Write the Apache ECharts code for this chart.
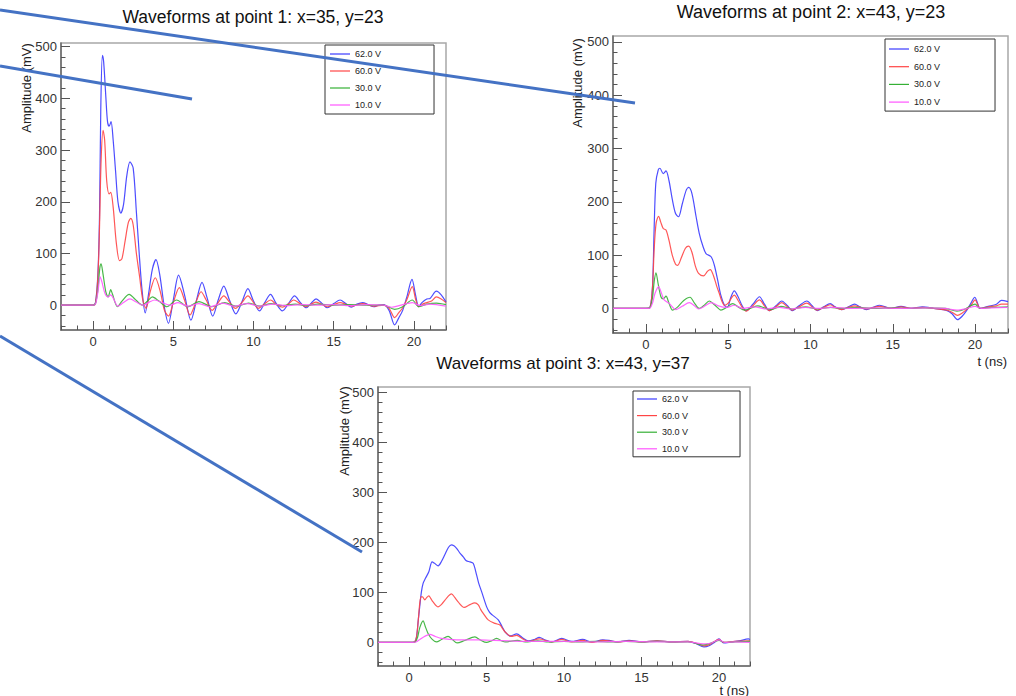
<!DOCTYPE html>
<html><head><meta charset="utf-8">
<script src="https://cdn.jsdelivr.net/npm/echarts@6/dist/echarts.min.js"></script>
<style>html,body{margin:0;padding:0;background:#fff}#c{width:1016px;height:696px}</style>
</head><body><div id="c"></div>
<script>
// ---------- data ----------
const SERIES_NAMES = ['62.0 V', '60.0 V', '30.0 V', '10.0 V'];
const PANEL_TITLES = ['Waveforms at point 1: x=35, y=23', 'Waveforms at point 2: x=43, y=23', 'Waveforms at point 3: x=43, y=37'];
const Y_TITLE = 'Amplitude (mV)';
const X_TITLE = 't (ns)';
const X_MAJOR = [0, 5, 10, 15, 20];
const Y_MAJOR = [0, 100, 200, 300, 400, 500];

// Point 1
const p1_62 = [[-2,0],[0,0],[0.15,5],[0.3,60],[0.4,170],[0.48,380],[0.58,483],[0.66,470],[0.8,400],[0.9,355],[1.0,346],[1.12,355],[1.25,320],[1.4,260],[1.55,200],[1.73,178],[1.9,195],[2.1,250],[2.3,277],[2.5,265],[2.7,180],[2.875,100],[3.05,30],[3.25,-15],[3.45,20],[3.7,70],[3.92,88],[4.15,60],[4.45,-5],[4.7,-35],[5.0,10],[5.33,58],[5.7,20],[6.1,-29],[6.45,10],[6.79,44],[7.1,15],[7.46,-21],[7.8,10],[8.15,37],[8.5,10],[8.9,-17],[9.3,8],[9.65,32],[10.0,8],[10.375,-11],[10.7,5],[11.06,21],[11.4,4],[11.8,-11],[12.2,4],[12.56,18],[12.9,6],[13.3,-5],[13.6,4],[13.9,12],[14.25,4],[14.6,-5],[15.0,3],[15.4,10],[15.75,3],[16.1,-4],[16.45,2],[16.8,5],[17.15,1],[17.5,-3],[17.8,0],[18.1,1],[18.45,-10],[18.8,-38],[19.05,-25],[19.3,-10],[19.55,15],[19.88,50],[20.1,20],[20.3,-3],[20.5,5],[20.8,12],[21.0,13],[21.4,27],[21.7,20],[22,6]];
const p1_60 = [[-2,0],[0,0],[0.15,4],[0.3,55],[0.4,150],[0.5,280],[0.62,338],[0.72,320],[0.85,240],[1.0,215],[1.1,218],[1.25,190],[1.45,120],[1.65,86],[1.8,90],[2.0,125],[2.2,160],[2.35,168],[2.5,155],[2.7,100],[2.9,55],[3.1,10],[3.3,-6],[3.55,25],[3.875,53],[4.2,25],[4.45,-10],[4.7,-21],[5.0,5],[5.375,34],[5.7,10],[6.04,-19],[6.4,5],[6.73,26],[7.05,10],[7.42,-10],[7.8,5],[8.15,18],[8.5,6],[8.875,-6],[9.3,6],[9.65,18],[10.0,5],[10.3,-6],[10.7,3],[11.06,10],[11.4,2],[11.8,-4],[12.2,3],[12.5,10],[12.9,3],[13.25,-3],[13.6,2],[13.9,6],[14.3,1],[14.6,-3],[15.0,1],[15.4,5],[15.8,1],[16.1,-2],[16.8,3],[17.5,-2],[18.1,0],[18.45,-6],[18.8,-24],[19.05,-15],[19.3,-5],[19.55,10],[19.9,36],[20.1,12],[20.3,-3],[20.6,3],[20.8,5],[21.1,8],[21.4,16],[21.7,12],[22,5]];
const p1_30 = [[-2,0],[0,0],[0.15,3],[0.3,30],[0.42,72],[0.5,80],[0.62,60],[0.8,25],[0.94,16],[1.1,30],[1.2,22],[1.52,-3],[1.8,8],[2.25,21],[2.6,12],[3.08,0],[3.4,8],[3.7,16],[4.1,8],[4.6,-3],[5.2,10],[5.9,-3],[6.6,7],[7.4,-3],[8.2,5],[8.9,-2],[9.7,4],[10.4,-2],[11.1,3],[11.8,-1],[12.6,2],[13.3,-1],[14.0,2],[15,0],[16,1],[17,0],[18.1,0],[18.8,-8],[19.3,-3],[19.9,10],[20.3,-3],[20.8,2],[21.4,4],[22,1]];
const p1_10 = [[-2,0],[0,0],[0.15,2],[0.3,25],[0.44,55],[0.55,45],[0.75,22],[0.94,16],[1.1,20],[1.25,14],[1.55,-2],[1.9,5],[2.3,12],[2.7,6],[3.1,0],[3.5,6],[3.85,10],[4.3,5],[4.8,0],[5.3,5],[5.9,-2],[6.6,3],[7.3,-3],[8.1,4],[8.8,-2],[9.6,3],[10.4,-2],[11.2,2],[12,-1],[13,1],[14,0],[15,1],[16,-1],[17,1],[18.1,0],[18.6,-4],[19.2,0],[19.9,5],[20.4,-1],[21,2],[22,-2]];

// Point 2
const p2_62 = [[-2,0],[0,0],[0.25,2],[0.4,40],[0.5,150],[0.6,235],[0.75,260],[0.85,263],[1.05,253],[1.22,258],[1.4,240],[1.6,205],[1.8,178],[1.98,172],[2.2,195],[2.45,222],[2.6,227],[2.8,215],[3.05,172],[3.24,141],[3.45,118],[3.65,103],[3.96,97],[4.15,82],[4.36,53],[4.55,25],[4.77,6],[4.95,2],[5.15,20],[5.37,33],[5.6,22],[5.85,5],[6.09,-4],[6.5,8],[6.9,22],[7.2,8],[7.5,-4],[7.9,5],[8.25,14],[8.6,5],[8.9,-4],[9.3,5],[9.78,14],[10.1,5],[10.4,-4],[10.8,3],[11.2,9],[11.5,3],[11.9,-2],[12.3,3],[12.68,8],[13.0,3],[13.4,-2],[13.8,2],[14.2,6],[14.9,0],[15.5,4],[16.1,0],[16.8,3],[17.5,0],[18.3,-4],[18.6,-10],[18.93,-21],[19.2,-15],[19.48,-4],[19.75,10],[19.98,21],[20.15,10],[20.3,0],[20.8,4],[21.3,8],[21.6,15],[22,13]];
const p2_60 = [[-2,0],[0,0],[0.25,2],[0.4,40],[0.5,110],[0.62,160],[0.77,173],[0.9,162],[1.05,150],[1.22,147],[1.4,128],[1.6,100],[1.8,83],[1.93,81],[2.15,95],[2.4,113],[2.6,117],[2.8,105],[3.0,80],[3.2,66],[3.5,61],[3.75,70],[3.91,73],[4.1,62],[4.3,42],[4.46,28],[4.6,15],[4.77,6],[5.0,10],[5.2,20],[5.37,25],[5.6,15],[5.85,2],[6.09,-5],[6.5,5],[6.9,16],[7.2,5],[7.5,-4],[7.9,3],[8.25,11],[8.6,3],[8.9,-3],[9.3,3],[9.78,10],[10.1,3],[10.4,-3],[10.8,2],[11.2,7],[11.5,2],[11.9,-2],[12.3,2],[12.7,5],[13.4,-1],[14.2,4],[14.9,0],[15.5,3],[16.1,0],[16.8,2],[17.5,0],[18.3,-3],[18.6,-7],[18.93,-13],[19.2,-9],[19.48,-2],[19.75,6],[20.0,16],[20.15,8],[20.3,0],[20.8,3],[21.3,5],[21.6,8],[22,8]];
const p2_30 = [[-2,0],[0,0],[0.25,2],[0.4,20],[0.5,50],[0.61,67],[0.75,45],[0.91,22],[1.05,18],[1.22,23],[1.4,10],[1.62,-3],[1.9,2],[2.3,15],[2.68,21],[2.95,10],[3.24,0],[3.5,5],[3.85,14],[4.2,6],[4.56,-3],[4.9,2],[5.27,9],[5.6,3],[6.0,-3],[6.4,1],[6.8,5],[7.2,1],[7.6,-2],[8.2,4],[8.9,-1],[9.7,3],[10.4,-1],[11.2,2],[12,0],[12.7,2],[14,0],[15,1],[16,0],[17,1],[18.2,0],[18.9,-5],[19.4,-1],[20,8],[20.3,0],[21,2],[22,3]];
const p2_10 = [[-2,0],[0,0],[0.25,1],[0.4,10],[0.55,28],[0.77,41],[0.95,28],[1.11,16],[1.4,10],[1.83,-2],[2.2,4],[2.64,11],[2.95,5],[3.2,-1],[3.6,5],[3.96,11],[4.4,5],[4.9,2],[5.37,6],[5.9,0],[6.6,3],[7.3,-1],[8.1,2],[8.8,-1],[9.7,2],[10.5,0],[11.3,2],[12.5,0],[14,1],[15.5,0],[17,1],[18.2,0],[18.9,-3],[19.5,0],[20,4],[20.4,0],[21,1],[22,2]];

// Point 3
const p3_62 = [[-2,0],[0,0],[0.35,1],[0.48,10],[0.6,45],[0.69,71],[0.8,101],[0.91,118],[1.06,128],[1.28,141],[1.49,161],[1.65,158],[1.88,153],[2.1,162],[2.31,175],[2.55,190],[2.74,195],[2.9,193],[3.07,188],[3.3,178],[3.5,171],[3.7,163],[3.93,161],[4.14,158],[4.36,135],[4.5,118],[4.69,101],[5.01,71],[5.2,60],[5.37,55],[5.76,45],[6.0,32],[6.2,21],[6.52,13],[6.95,17],[7.3,10],[7.7,3],[8.1,6],[8.4,10],[8.8,5],[9.2,1],[9.86,8],[10.5,2],[11.2,6],[11.8,1],[12.5,5],[12.9,4],[13.5,1],[14.2,4],[15,1],[16,3],[17,1],[18,2],[18.5,-2],[19.03,-9],[19.4,-6],[19.7,0],[20.0,7],[20.3,-1],[20.8,1],[21.3,3],[21.9,7],[22,6]];
const p3_60 = [[-2,0],[0,0],[0.35,1],[0.48,10],[0.6,45],[0.7,80],[0.78,91],[0.87,91],[1.02,85],[1.15,90],[1.28,93],[1.4,88],[1.55,81],[1.88,71],[2.1,76],[2.31,84],[2.55,93],[2.74,97],[2.95,90],[3.17,81],[3.56,70],[3.9,75],[4.25,79],[4.47,75],[4.62,66],[4.79,58],[5.11,45],[5.55,38],[5.87,35],[6.05,27],[6.2,21],[6.6,12],[6.95,14],[7.3,8],[7.7,2],[8.4,7],[9.2,1],[9.86,6],[10.5,1],[11.2,4],[11.8,0],[12.5,4],[13.5,1],[14.2,3],[15,1],[16,3],[17,1],[18,2],[18.5,-1],[19.03,-7],[19.4,-4],[20.0,6],[20.3,0],[21,2],[22,3]];
const p3_30 = [[-2,0],[0,0],[0.4,1],[0.55,10],[0.7,30],[0.91,43],[1.05,32],[1.23,18],[1.5,6],[1.77,1],[2.1,6],[2.52,12],[2.8,6],[3.1,-1],[3.6,4],[4.25,11],[4.6,5],[5.0,0],[5.3,3],[5.65,8],[6.0,3],[6.2,1],[7.0,4],[7.5,1],[8.3,3],[9.0,1],[10,2],[11,1],[12,2],[13,1],[14,2],[15,1],[16,2],[17,1],[18,1],[19,-5],[19.4,-2],[20,4],[20.4,0],[21,1],[22,2]];
const p3_10 = [[-2,0],[0,0],[0.45,1],[0.7,6],[1.0,12],[1.34,16],[1.7,12],[2.1,8],[2.6,6],[3.5,5],[4.5,5],[5.5,4],[6.5,3],[8,2],[10,2],[12,1],[14,2],[16,1],[18,1],[19,-3],[19.5,-1],[20,5],[20.4,0],[21,1],[22,0]];

const PANEL_DATA = [[p1_62, p1_60, p1_30, p1_10], [p2_62, p2_60, p2_30, p2_10], [p3_62, p3_60, p3_30, p3_10]];

// ---------- styling / layout ----------
const COLORS = ['#3a3aff', '#ff4545', '#35b035', '#ff55ff'];
const FONT = '"Liberation Sans", Arial, Helvetica, sans-serif';
const PANELS = [
  { grid: {left: 61, top: 43, width: 385, height: 287}, ymin: -48, ymax: 507,
    legend: {left: 325, top: 45, padding: [3, 53, 3, 5], itemGap: 5},
    title: {x: 253, y: 17, size: 17.5}, ytitle: {x: 26, y: 88}, xtitle: null },
  { grid: {left: 613, top: 36, width: 395, height: 297}, ymin: -46, ymax: 511,
    legend: {left: 885, top: 39, padding: [4, 55, 3, 4], itemGap: 5.7},
    title: {x: 811, y: 12, size: 18}, ytitle: {x: 577.5, y: 83}, xtitle: {x: 1007, y: 361} },
  { grid: {left: 378, top: 387, width: 372, height: 279}, ymin: -47, ymax: 510,
    legend: {left: 633, top: 391, padding: [2, 52, 2, 4], itemGap: 4.6},
    title: {x: 563, y: 363, size: 17}, ytitle: {x: 344.5, y: 431}, xtitle: {x: 749, y: 690} }
];
const X_MINOR = [], Y_MINOR = [];
for (let v = -2; v <= 22; v += 1) if (v % 5 !== 0) X_MINOR.push(v);
for (let v = -40; v <= 500; v += 20) if (v % 100 !== 0) Y_MINOR.push(v);

const grids = [], xAxes = [], yAxes = [], series = [], legends = [], graphics = [];
PANELS.forEach((p, i) => {
  grids.push(Object.assign({show: true, borderColor: '#a8a8a8', borderWidth: 1.5, backgroundColor: '#fff', containLabel: false, outerBoundsMode: 'none'}, p.grid));
  const axisLineStyle = {color: '#6a6a6a', width: 1.5};
  xAxes.push({type: 'value', gridIndex: i, position: 'bottom', min: -2, max: 22,
    axisLine: {show: true, onZero: false, lineStyle: axisLineStyle},
    axisTick: {show: true, inside: true, length: 9, customValues: X_MAJOR, lineStyle: {color: '#555', width: 1}},
    axisLabel: {show: true, customValues: X_MAJOR, fontSize: 13, color: '#333', margin: 5, fontFamily: FONT},
    splitLine: {show: false}});
  xAxes.push({type: 'value', gridIndex: i, position: 'bottom', min: -2, max: 22,
    axisLine: {show: false, onZero: false},
    axisTick: {show: true, inside: true, length: 4.5, customValues: X_MINOR, lineStyle: {color: '#555', width: 1}},
    axisLabel: {show: false}, splitLine: {show: false}});
  yAxes.push({type: 'value', gridIndex: i, position: 'left', min: p.ymin, max: p.ymax,
    axisLine: {show: true, onZero: false, lineStyle: axisLineStyle},
    axisTick: {show: true, inside: true, length: 9, customValues: Y_MAJOR, lineStyle: {color: '#555', width: 1}},
    axisLabel: {show: true, customValues: Y_MAJOR, fontSize: 13, color: '#333', margin: 4, fontFamily: FONT},
    splitLine: {show: false}});
  yAxes.push({type: 'value', gridIndex: i, position: 'left', min: p.ymin, max: p.ymax,
    axisLine: {show: false, onZero: false},
    axisTick: {show: true, inside: true, length: 4.5, customValues: Y_MINOR, lineStyle: {color: '#555', width: 1}},
    axisLabel: {show: false}, splitLine: {show: false}});
  PANEL_DATA[i].forEach((d, k) => {
    series.push({type: 'line', name: SERIES_NAMES[k], xAxisIndex: 2 * i, yAxisIndex: 2 * i, data: d,
      showSymbol: false, symbol: 'none', clip: true, animation: false, z: 2 + k, smooth: 0.3,
      lineStyle: {width: 1.2, color: COLORS[k], opacity: 0.9}, itemStyle: {color: COLORS[k]}});
  });
  legends.push({orient: 'vertical', left: p.legend.left, top: p.legend.top, padding: p.legend.padding,
    itemGap: p.legend.itemGap, data: SERIES_NAMES, icon: 'rect', itemWidth: 20, itemHeight: 1.2,
    borderColor: '#333', borderWidth: 1, backgroundColor: '#fff', selectedMode: false,
    textStyle: {fontSize: 9, color: '#222', lineHeight: 12, fontFamily: FONT}});
  graphics.push({type: 'text', x: p.title.x, y: p.title.y, z: 50,
    style: {text: PANEL_TITLES[i], font: 'normal ' + p.title.size + 'px ' + FONT, fill: '#111', align: 'center', verticalAlign: 'middle'}});
  graphics.push({type: 'text', x: p.ytitle.x, y: p.ytitle.y, rotation: Math.PI / 2, z: 50,
    style: {text: Y_TITLE, font: 'normal 13px ' + FONT, fill: '#222', align: 'center', verticalAlign: 'middle'}});
  if (p.xtitle) graphics.push({type: 'text', x: p.xtitle.x, y: p.xtitle.y, z: 50,
    style: {text: X_TITLE, font: 'normal 13px ' + FONT, fill: '#222', align: 'right', verticalAlign: 'middle'}});
});
// annotation lines overlaid on the collage
const ANNOT = [[0, 10, 635, 103], [0, 66, 192, 99], [0, 336, 362, 552]];
ANNOT.forEach(a => graphics.push({type: 'line', z: 100, shape: {x1: a[0], y1: a[1], x2: a[2], y2: a[3]},
  style: {stroke: '#4472c4', lineWidth: 3}}));

const chart = echarts.init(document.getElementById('c'), null, {renderer: 'svg', width: 1016, height: 696});
chart.setOption({
  backgroundColor: '#fff', animation: false,
  grid: grids, xAxis: xAxes, yAxis: yAxes, series: series, legend: legends,
  graphic: {elements: graphics}
});
</script></body></html>
